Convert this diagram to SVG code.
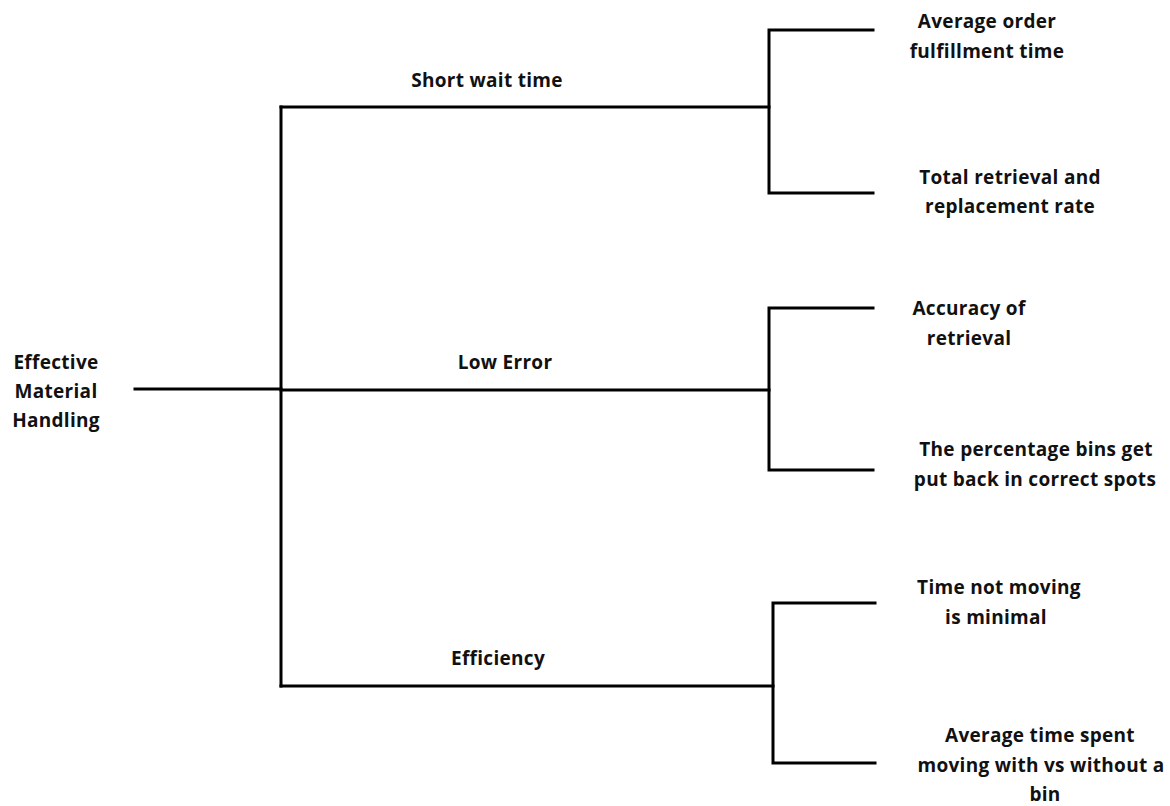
<svg xmlns="http://www.w3.org/2000/svg" width="1170" height="806" viewBox="0 0 1170 806">
  <style>
    .wire { fill: none; stroke: #000; stroke-width: 3; stroke-linecap: square; stroke-linejoin: miter; }
    .lbl { font-family: "Open Sans", "Noto Sans", "Liberation Sans", sans-serif; font-weight: 700; font-size: 19px; letter-spacing: 0.3px; fill: #111; text-anchor: middle; }
  </style>
  <rect width="1170" height="806" fill="#fff"/>

  <g id="connectors">
    <!-- root stem and trunk -->
    <path class="wire" d="M135 389 H281"/>
    <path class="wire" d="M281 107 V686"/>
    <!-- first-level branches -->
    <path class="wire" d="M281 107 H769"/>
    <path class="wire" d="M281 390 H769"/>
    <path class="wire" d="M281 686 H773"/>
    <!-- short wait time leaves -->
    <path class="wire" d="M873 30 H769 V193 H873"/>
    <!-- low error leaves -->
    <path class="wire" d="M873 308 H769 V470 H873"/>
    <!-- efficiency leaves -->
    <path class="wire" d="M875 603 H773 V763 H875"/>
  </g>

  <g id="root">
    <text class="lbl" x="56" y="369">Effective</text>
    <text class="lbl" x="56" y="398">Material</text>
    <text class="lbl" x="56" y="427">Handling</text>
  </g>

  <g id="short-wait-time">
    <text class="lbl" x="487" y="87">Short wait time</text>
  </g>
  <g id="low-error">
    <text class="lbl" x="505" y="369">Low Error</text>
  </g>
  <g id="efficiency">
    <text class="lbl" x="498" y="665">Efficiency</text>
  </g>

  <g id="avg-order-fulfillment">
    <text class="lbl" x="987" y="28">Average order</text>
    <text class="lbl" x="987" y="58">fulfillment time</text>
  </g>
  <g id="retrieval-replacement-rate">
    <text class="lbl" x="1010" y="184">Total retrieval and</text>
    <text class="lbl" x="1010" y="213">replacement rate</text>
  </g>
  <g id="accuracy-of-retrieval">
    <text class="lbl" x="969" y="315">Accuracy of</text>
    <text class="lbl" x="969" y="345">retrieval</text>
  </g>
  <g id="bins-correct-spots">
    <text class="lbl" x="1036" y="456">The percentage bins get</text>
    <text class="lbl" x="1035" y="486">put back in correct spots</text>
  </g>
  <g id="time-not-moving">
    <text class="lbl" x="999" y="594">Time not moving</text>
    <text class="lbl" x="996" y="624">is minimal</text>
  </g>
  <g id="time-moving-with-bin">
    <text class="lbl" x="1040" y="742">Average time spent</text>
    <text class="lbl" x="1041" y="772">moving with vs without a</text>
    <text class="lbl" x="1045" y="801">bin</text>
  </g>
</svg>
